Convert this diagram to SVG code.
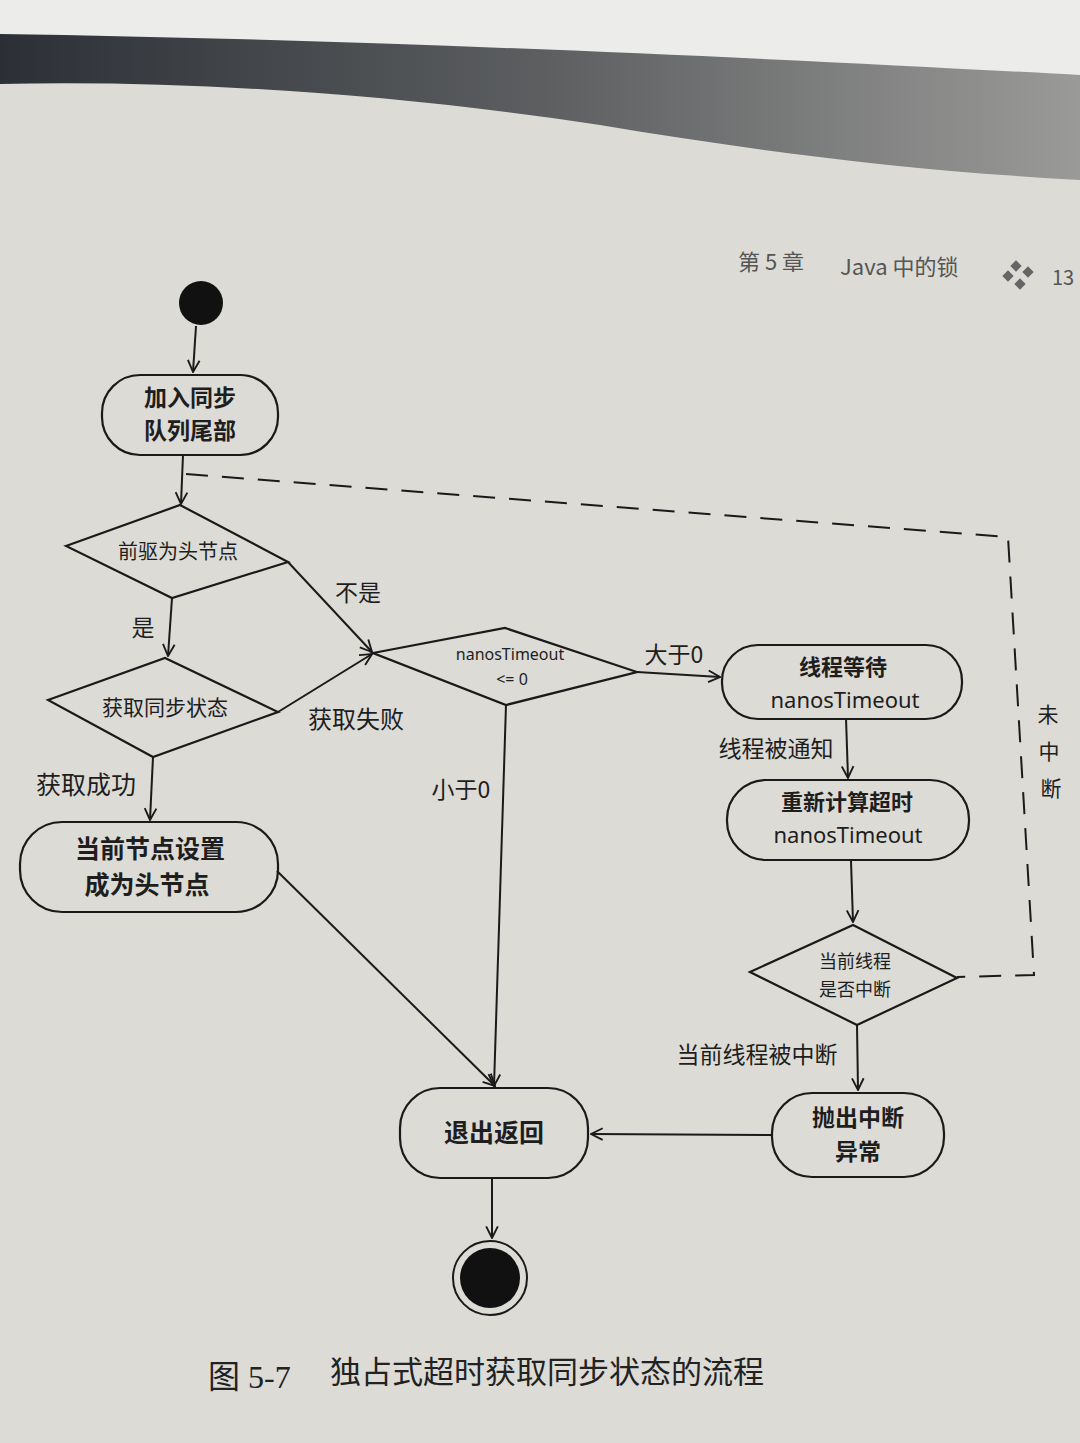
<svg xmlns="http://www.w3.org/2000/svg" width="1080" height="1443" viewBox="0 0 1080 1443">
<defs>
<linearGradient id="band" x1="0" y1="0" x2="1" y2="0">
<stop offset="0" stop-color="#2c3036"/>
<stop offset="0.5" stop-color="#5c5e60"/>
<stop offset="1" stop-color="#9a9a98"/>
</linearGradient>
<marker id="arr" viewBox="0 0 12 12" refX="11" refY="6" markerWidth="14" markerHeight="14" markerUnits="userSpaceOnUse" orient="auto">
<path d="M1,1 L11,6 L1,11" fill="none" stroke="#1a1a1a" stroke-width="1.6"/>
</marker>
<style>
.ln{fill:none;stroke:#1a1a1a;stroke-width:2}
.dash{fill:none;stroke:#1a1a1a;stroke-width:2;stroke-dasharray:22 14}
.nd{fill:none;stroke:#1a1a1a;stroke-width:2.2}
.t{font-family:"Noto Sans CJK SC","Noto Sans",sans-serif;fill:#1e1e1e;text-anchor:middle}
.b{font-weight:bold}
.lat{font-family:"Noto Sans","Noto Sans CJK SC",sans-serif;fill:#1e1e1e;text-anchor:middle}
.hd{font-family:"Noto Sans CJK SC","Noto Sans",sans-serif;fill:#555}
.cap{font-family:"Liberation Serif","Noto Sans CJK SC",serif;fill:#222}
</style>
</defs>
<rect width="1080" height="1443" fill="#dcdbd6"/>
<path d="M0,0 H1080 V180 C900,170 750,150 600,125 C400,95 200,80 0,84 Z" fill="url(#band)"/>
<path d="M0,0 H1080 V75 C800,60 400,40 0,34 Z" fill="#ececeb"/>
<g id="header">
<text class="hd" x="738" y="270" font-size="22">第 5 章</text>
<text class="hd" x="840" y="275" font-size="22">Java 中的锁</text>
<g fill="#666"><rect x="1012" y="262" width="8" height="8" transform="rotate(45 1016 266)"/><rect x="1024" y="268" width="8" height="8" transform="rotate(45 1028 272)"/><rect x="1004" y="272" width="8" height="8" transform="rotate(45 1008 276)"/><rect x="1016" y="280" width="8" height="8" transform="rotate(45 1020 284)"/></g>
<text class="hd" x="1052" y="285" font-size="20">13</text>
</g>
<g id="connectors">
<path class="ln" d="M196,326 L193,372" marker-end="url(#arr)"/>
<path class="ln" d="M183,455 L181,504" marker-end="url(#arr)"/>
<path class="dash" d="M186,474 L1008,537 L1034,975 L957,977"/>
<path class="ln" d="M172,598 L168,656" marker-end="url(#arr)"/>
<path class="ln" d="M288,562 L372,652" marker-end="url(#arr)"/>
<path class="ln" d="M278,712 L372,654" marker-end="url(#arr)"/>
<path class="ln" d="M637,672 L720,677" marker-end="url(#arr)"/>
<path class="ln" d="M506,705 L494,1086" marker-end="url(#arr)"/>
<path class="ln" d="M846,718 L848,778" marker-end="url(#arr)"/>
<path class="ln" d="M851,861 L853,922" marker-end="url(#arr)"/>
<path class="ln" d="M857,1025 L858,1090" marker-end="url(#arr)"/>
<path class="ln" d="M772,1135 L591,1134" marker-end="url(#arr)"/>
<path class="ln" d="M277,871 L495,1086" marker-end="url(#arr)"/>
<path class="ln" d="M153,757 L150,820" marker-end="url(#arr)"/>
<path class="ln" d="M492,1178 L492,1238" marker-end="url(#arr)"/>
<text class="t" x="143" y="636" font-size="23">是</text>
<text class="t" x="358" y="601" font-size="23">不是</text>
<text class="t" x="356" y="728" font-size="24">获取失败</text>
<text class="t" x="86" y="794" font-size="25">获取成功</text>
<text class="t" x="461" y="798" font-size="23">小于0</text>
<text class="t" x="674" y="663" font-size="23">大于0</text>
<text class="t" x="776" y="757" font-size="23">线程被通知</text>
<text class="t" x="757" y="1063" font-size="23">当前线程被中断</text>
<text class="t" x="1048" y="722" font-size="21">未</text>
<text class="t" x="1049" y="759" font-size="21">中</text>
<text class="t" x="1051" y="796" font-size="21">断</text>
</g>
<g id="start"><circle cx="201" cy="303" r="22" fill="#111"/></g>
<g id="enqueue">
<rect class="nd" x="102" y="375" width="176" height="80" rx="38"/>
<text class="t b" x="190" y="406" font-size="23">加入同步</text>
<text class="t b" x="190" y="439" font-size="23">队列尾部</text>
</g>
<g id="prevHead">
<polygon class="nd" points="66,546 180,505 288,562 172,598"/>
<text class="t" x="178" y="559" font-size="20">前驱为头节点</text>
</g>
<g id="tryAcquire">
<polygon class="nd" points="48,700 165,658 278,712 153,757"/>
<text class="t" x="165" y="715" font-size="21">获取同步状态</text>
</g>
<g id="timeoutCheck">
<polygon class="nd" points="373,653 505,628 637,672 506,705"/>
<text class="lat" x="510" y="660" font-size="16">nanosTimeout</text>
<text class="lat" x="512" y="685" font-size="16">&lt;= 0</text>
</g>
<g id="setHead">
<rect class="nd" x="20" y="822" width="258" height="90" rx="42"/>
<text class="t b" x="150" y="858" font-size="25">当前节点设置</text>
<text class="t b" x="147" y="894" font-size="25">成为头节点</text>
</g>
<g id="wait">
<rect class="nd" x="722" y="645" width="240" height="74" rx="36"/>
<text class="t b" x="843" y="675" font-size="22">线程等待</text>
<text class="lat" x="845" y="708" font-size="22">nanosTimeout</text>
</g>
<g id="recalc">
<rect class="nd" x="727" y="780" width="242" height="80" rx="39"/>
<text class="t b" x="847" y="810" font-size="22">重新计算超时</text>
<text class="lat" x="848" y="843" font-size="22">nanosTimeout</text>
</g>
<g id="interrupted">
<polygon class="nd" points="750,972 853,925 957,978 857,1025"/>
<text class="t" x="855" y="968" font-size="18">当前线程</text>
<text class="t" x="855" y="996" font-size="18">是否中断</text>
</g>
<g id="throw">
<rect class="nd" x="772" y="1093" width="172" height="84" rx="40"/>
<text class="t b" x="858" y="1126" font-size="23">抛出中断</text>
<text class="t b" x="858" y="1160" font-size="23">异常</text>
</g>
<g id="exit">
<rect class="nd" x="400" y="1088" width="188" height="90" rx="40"/>
<text class="t b" x="494" y="1142" font-size="25">退出返回</text>
</g>
<g id="end">
<circle cx="490" cy="1278" r="37" fill="none" stroke="#1a1a1a" stroke-width="2"/>
<circle cx="490" cy="1278" r="30" fill="#111"/>
</g>
<g id="caption">
<text class="cap" x="208" y="1388" font-size="32">图 5-7</text>
<text class="cap" x="330" y="1383" font-size="31">独占式超时获取同步状态的流程</text>
</g>
</svg>
